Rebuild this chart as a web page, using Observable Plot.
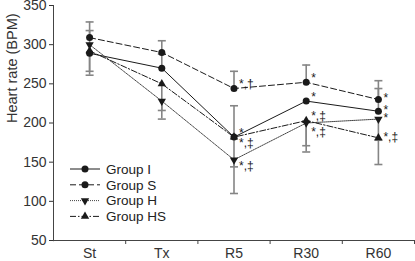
<!DOCTYPE html>
<html><head><meta charset="utf-8">
<script src="https://cdn.jsdelivr.net/npm/d3@7"></script>
<script src="https://cdn.jsdelivr.net/npm/@observablehq/plot@0.6"></script>
<style>
body{margin:0;background:#fff;}
#chart svg{font-family:Arial,"Liberation Sans",sans-serif;}
</style>
</head><body><div id="chart"></div>
<script>
const times = ["St", "Tx", "R5", "R30", "R60"];
const groups = ["Group I", "Group S", "Group H", "Group HS"];
const yTicks = [50, 100, 150, 200, 250, 300, 350];

// mean heart rate (BPM)
const hrI  = [289, 270, 182, 228, 215];
const hrS  = [309, 290, 244, 252, 230];
const hrH  = [300, 228, 153, 200, 205];
const hrHS = [292, 250, 182, 203, 181];

// error bar end (one-sided), null = none visible
const errI  = [261, 288, 222, null, 244];
const errS  = [329, 305, 266, 274, 254];
const errH  = [318, 216, 110, 171, 178];
const errHS = [266, 205, 144, 163, 147];

// significance marks
const annGroup = ["Group S", "Group I", "Group HS", "Group H", "Group S", "Group I", "Group HS", "Group H", "Group S", "Group I", "Group H", "Group HS"];
const annTime  = ["R5", "R5", "R5", "R5", "R30", "R30", "R30", "R30", "R60", "R60", "R60", "R60"];
const annLabel = ["*,†", "*", "*,‡", "*,‡", "*", "*", "*,‡", "*,‡", "*", "*", "*", "*,‡"];
const annPlace = ["up", "up", "down", "down", "up", "up", "up", "down2", "mid", "mid", "mid", "mid"];

const means = {"Group I": hrI, "Group S": hrS, "Group H": hrH, "Group HS": hrHS};
const errs = {"Group I": errI, "Group S": errS, "Group H": errH, "Group HS": errHS};
const style = {
  "Group I":  {dash: null, symbol: "circle", rotate: 0},
  "Group S":  {dash: "6,3", symbol: "circle", rotate: 0},
  "Group H":  {dash: "1,1", symbol: "triangle", rotate: 180},
  "Group HS": {dash: "6,2,1.5,2", symbol: "triangle", rotate: 0}
};

const rows = [];
for (const g of groups) times.forEach((t, i) => rows.push({group: g, time: t, xi: i + 0.5, hr: means[g][i], err: errs[g][i]}));
const errRows = rows.filter(d => d.err != null);
const ann = annLabel.map((l, k) => {
  const i = times.indexOf(annTime[k]);
  return {xi: i + 0.5, hr: means[annGroup[k]][i], label: l, place: annPlace[k]};
});

const cap = {draw(ctx) { ctx.moveTo(-4, 0); ctx.lineTo(4, 0); }};
const ink = "#1a1a1a";
const errColor = "#858585";
const FONT = 'Arial, "Liberation Sans", sans-serif';

const marks = [
  Plot.ruleY([50], {stroke: "#444"}),
  Plot.ruleX([0], {y1: 48.5, y2: 350, stroke: "#444"}),
  Plot.axisY({ticks: yTicks, tickSize: 4, tickPadding: 3, fontSize: 14, color: "#333", label: null}),
  Plot.text(["Heart rate (BPM)"], {frameAnchor: "left", dx: -41, rotate: -90, fontSize: 14.5, fill: "#333"}),
  Plot.axisX({ticks: times.map((t, i) => i + 0.5), tickSize: 0, tickPadding: 8, tickFormat: d => times[Math.floor(d)], fontSize: 14, color: "#333", label: null}),
  Plot.axisX({ticks: times.map((t, i) => i + 1), tickSize: 4, tickFormat: () => "", stroke: "#444", label: null}),
  Plot.ruleX(errRows, {x: "xi", y1: "hr", y2: "err", stroke: errColor, strokeWidth: 1.6}),
  Plot.dot(errRows, {x: "xi", y: "err", symbol: cap, stroke: errColor, strokeWidth: 1.6, fill: "none"})
];
for (const g of groups) {
  const s = style[g];
  const data = rows.filter(d => d.group === g);
  marks.push(Plot.line(data, {x: "xi", y: "hr", stroke: g === "Group H" ? "#444" : ink, strokeWidth: 1, strokeDasharray: s.dash}));
}
for (const g of groups) {
  const s = style[g];
  const data = rows.filter(d => d.group === g);
  marks.push(Plot.dot(data, {x: "xi", y: "hr", symbol: s.symbol, rotate: s.rotate, r: s.symbol === "circle" ? 3.5 : 3.1, fill: ink, stroke: "none"}));
}
const dyOf = {up: -4, mid: -1, down: 6, down2: 9};
for (const p of Object.keys(dyOf)) {
  marks.push(Plot.text(ann.filter(a => a.place === p), {x: "xi", y: "hr", text: "label", dx: 5, dy: dyOf[p], textAnchor: "start", fontSize: 12, fill: ink}));
}

const chart = Plot.plot({
  width: 415, height: 261,
  marginLeft: 53, marginRight: 1, marginTop: 5, marginBottom: 21,
  x: {domain: [0, 5], axis: null},
  y: {domain: [50, 350], axis: null},
  style: {fontFamily: FONT, background: "#fff"},
  marks
});
document.getElementById("chart").appendChild(chart);

// legend inside the frame
const svg = d3.select(chart);
const lg = svg.append("g").attr("font-family", FONT).attr("font-size", 13.5).attr("text-anchor", "start");
groups.forEach((g, k) => {
  const s = style[g];
  const y = 169 + k * 15.8;
  lg.append("line").attr("x1", 70).attr("x2", 100).attr("y1", y).attr("y2", y)
    .attr("stroke", g === "Group H" ? "#444" : ink).attr("stroke-width", 1).attr("stroke-dasharray", s.dash);
  const sym = s.symbol === "circle" ? d3.symbolCircle : d3.symbolTriangle;
  const rr = s.symbol === "circle" ? 3.5 : 3.1;
  lg.append("path").attr("d", d3.symbol(sym, Math.PI * rr * rr)())
    .attr("transform", `translate(85,${y}) rotate(${s.rotate})`).attr("fill", ink);
  lg.append("text").attr("x", 106).attr("y", y).attr("dy", "0.35em").attr("fill", "#222").text(g);
});
</script>
</body></html>
